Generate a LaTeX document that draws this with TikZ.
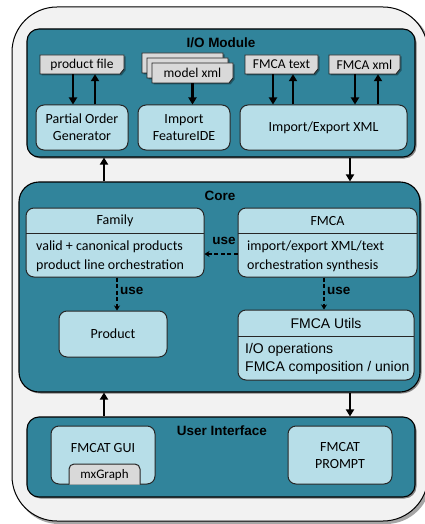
\documentclass[tikz,border=0pt]{standalone}
\usepackage{fontspec}
\setmainfont{Carlito}
\newfontfamily\headfont{Liberation Sans}
\usetikzlibrary{arrows.meta,shadows,calc}
\definecolor{frameBg}{HTML}{F2F2F2}
\definecolor{teal}{HTML}{31849B}
\definecolor{pale}{HTML}{B7DEE8}
\definecolor{docgray}{HTML}{D9D9D9}
\tikzset{
  shade/.style={drop shadow={shadow xshift=1.5pt,shadow yshift=-1.5pt,opacity=0.45,fill=black}},
  module/.style={draw=black,line width=1.1pt,fill=teal,rounded corners=12pt,shade},
  part/.style={draw=black!85,line width=1pt,fill=pale,rounded corners=8pt,inner sep=0pt,
    align=center,font=\fontsize{14}{17}\selectfont},
  title/.style={font=\headfont\bfseries\fontsize{13.5}{16}\selectfont},
  bodytxt/.style={font=\fontsize{14}{17}\selectfont,anchor=west,inner sep=0pt},
  helv/.style={font=\headfont\fontsize{14}{17}\selectfont,inner sep=0pt},
  docnode/.style={inner sep=0pt,font=\fontsize{13.5}{16}\selectfont},
  docshape/.style={draw=black!85,line width=0.9pt,fill=docgray},
  arr/.style={line width=2.3pt,-{Triangle[width=8pt,length=7pt]}},
  usearr/.style={line width=1.8pt,dash pattern=on 4pt off 2.5pt,-{Stealth[width=6pt,length=5pt]}},
  uselbl/.style={font=\headfont\bfseries\fontsize{13.5}{16}\selectfont,inner sep=0pt},
}
% document-like shape with a clipped lower right corner; #6 is its label
\newcommand{\docbox}[6]{%
  \fill[black,opacity=0.35] (#2+1.5,#3+1.5) -- (#4+1.5,#3+1.5) -- (#4+1.5,#5-3.5) -- (#4-2.5,#5+1.5) -- (#2+1.5,#5+1.5) -- cycle;
  \draw[docshape] (#2,#3) -- (#4,#3) -- (#4,#5-5) -- (#4-4,#5) -- (#2,#5) -- cycle;
  \node[docnode,minimum width={#4-#2},minimum height={#5-#3}] (#1) at ({(#2+#4)/2},{(#3+#5)/2}) {#6};}
\begin{document}
\begin{tikzpicture}[x=1pt,y=-1pt]
\useasboundingbox (0,0) rectangle (424,524);

% outer frame
\fill[black,opacity=0.35,rounded corners=45pt] (14,9) rectangle (431,524);
\draw[fill=frameBg,line width=1pt,rounded corners=45pt] (12,7) rectangle (428,521);

% ---------------- I/O module ----------------
\node[module,minimum width=388,minimum height=128] (io) at (221,93) {};
\node[title] (iot) at (221,43) {I/O Module};

\node[part,minimum width=92,minimum height=45] (pog) at (82,127.5) {Partial Order\\Generator};
\node[part,minimum width=92,minimum height=45] (fide) at (184,127.5) {Import\\FeatureIDE};
\node[part,minimum width=167,minimum height=45] (xml) at (323.5,127.5) {Import/Export XML};

\docbox{pf}{40}{55}{124}{74}{product file}
\docbox{mxb}{142}{53}{223}{73}{}
\docbox{mxm}{147}{58}{228}{78}{}
\docbox{mx}{152}{63}{233}{83}{model xml}
\docbox{ft}{245}{55}{318}{74}{FMCA text}
\docbox{fx}{329}{55}{400}{74}{FMCA xml}

\draw[arr] ([xshift=-9pt]pf.south) -- ([xshift=-9pt]pf.south |- pog.north);
\draw[arr] ([xshift=13pt]pf.south |- pog.north) -- ([xshift=13pt]pf.south);
\draw[arr] (mx.south) -- (mx.south |- fide.north);
\draw[arr] ([xshift=-8.5pt]ft.south) -- ([xshift=-8.5pt]ft.south |- xml.north);
\draw[arr] ([xshift=11.5pt]ft.south |- xml.north) -- ([xshift=11.5pt]ft.south);
\draw[arr] ([xshift=-9.5pt]fx.south) -- ([xshift=-9.5pt]fx.south |- xml.north);
\draw[arr] ([xshift=13.5pt]fx.south |- xml.north) -- ([xshift=13.5pt]fx.south);

% ---------------- Core ----------------
\node[module,rounded corners=20pt,minimum width=401,minimum height=210] (core) at (219.5,287) {};
\node[title] (coret) at (220,196) {Core};

\node[part,minimum width=178,minimum height=69] (fam) at (115,242.5) {};
\draw[black!85,line width=1pt] (26,233) -- (204,233);
\node[docnode,font=\fontsize{14}{17}\selectfont] at (115,221) {Family};
\node[bodytxt] at (36,247) {valid + canonical products};
\node[bodytxt] at (36,266) {product line orchestration};

\node[part,minimum width=179,minimum height=69] (fmca) at (327.5,242.5) {};
\draw[black!85,line width=1pt] (238,233) -- (417,233);
\node[docnode,font=\fontsize{14}{17}\selectfont] at (327.5,221) {FMCA};
\node[bodytxt] at (247,247) {import/export XML/text};
\node[bodytxt] at (247,266) {orchestration synthesis};

\node[part,minimum width=108,minimum height=46] (prod) at (113,334) {Product};

\node[part,minimum width=176,minimum height=70] (utils) at (326,345) {};
\draw[black!85,line width=1pt] (238,336) -- (414,336);
\node[helv] at (326,323) {FMCA Utils};
\node[helv,anchor=west] at (245,350) {I/O operations};
\node[helv,anchor=west] at (245,368) {FMCA composition / union};

\draw[usearr] (fmca.west |- 0,254) -- (fam.east |- 0,254);
\node[uselbl] at (224,241) {use};
\draw[usearr] (fam.south -| 117,0) -- (prod.north -| 117,0);
\node[uselbl,anchor=west] at (120,291) {use};
\draw[usearr] (fmca.south -| 324,0) -- (utils.north -| 324,0);
\node[uselbl,anchor=west] at (327,291) {use};

% ---------------- User interface ----------------
\node[module,minimum width=388,minimum height=80] (ui) at (221,457) {};
\node[title] (uit) at (222,431) {User Interface};

\node[part,minimum width=104,minimum height=58] (gui) at (103,455) {};
\node[docnode,font=\fontsize{14}{17}\selectfont] at (103,448) {FMCAT GUI};
\draw[black!85,line width=1pt,fill=docgray,rounded corners=5pt] (69,484.5) -- (69,464) -- (140,464) -- (140,484.5);
\node[docnode,font=\fontsize{13}{16}\selectfont] (mxg) at (104.5,475) {mxGraph};
\node[part,minimum width=104,minimum height=58] (prompt) at (340,455) {FMCAT\\PROMPT};

% connections between modules
\draw[arr] (core.north -| 104,0) -- (io.south -| 104,0);
\draw[arr] (io.south -| 350,0) -- (core.north -| 350,0);
\draw[arr] (ui.north -| 104,0) -- (core.south -| 104,0);
\draw[arr] (core.south -| 350,0) -- (ui.north -| 350,0);
\end{tikzpicture}
\end{document}
